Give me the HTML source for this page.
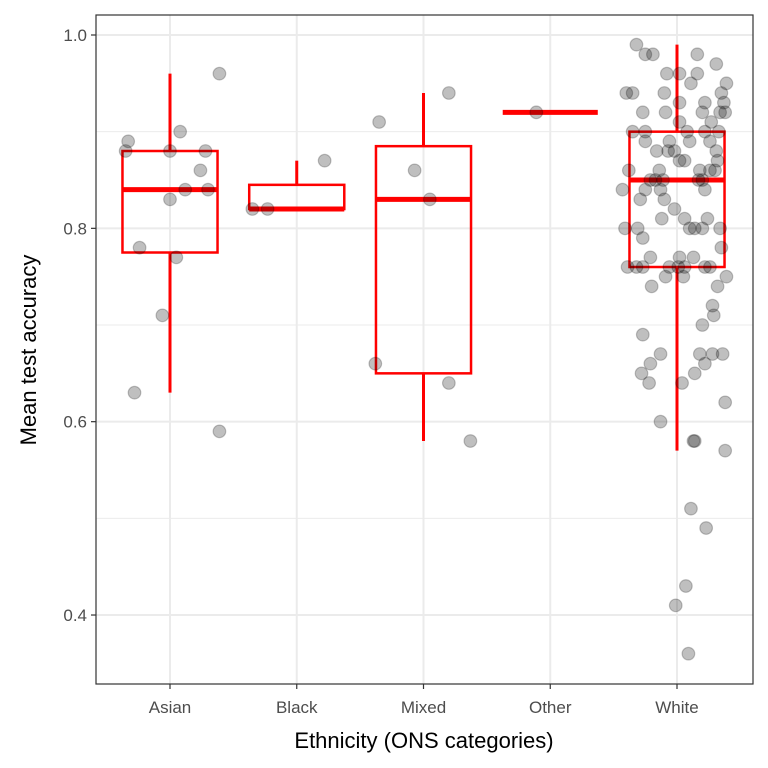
<!DOCTYPE html>
<html><head><meta charset="utf-8"><style>
html,body{margin:0;padding:0;background:#fff;}
svg{display:block;font-family:"Liberation Sans",Arial,sans-serif;}
</style></head><body>
<svg id="chart" width="768" height="768" viewBox="0 0 768 768"></svg>
<script>
const categories=["Asian","Black","Mixed","Other","White"];
const boxLow=[0.63,0.82,0.58,0.92,0.57];
const boxQ1=[0.775,0.82,0.65,0.92,0.76];
const boxMed=[0.84,0.82,0.83,0.92,0.85];
const boxQ3=[0.88,0.845,0.885,0.92,0.90];
const boxHigh=[0.96,0.87,0.94,0.92,0.99];
const yMajorTicks=[0.4,0.6,0.8,1.0];
const yTickLabels=["0.4","0.6","0.8","1.0"];
const yMinorTicks=[0.5,0.7,0.9];
const asianVal=[0.89,0.88,0.90,0.88,0.88,0.86,0.84,0.84,0.83,0.78,0.77,0.71,0.63,0.59,0.96];
const asianJit=[-0.33,-0.35,0.08,0,0.28,0.24,0.12,0.30,0,-0.24,0.05,-0.06,-0.28,0.39,0.39];
const blackVal=[0.82,0.82,0.87];
const blackJit=[-0.35,-0.23,0.22];
const mixedVal=[0.91,0.86,0.83,0.94,0.66,0.64,0.58];
const mixedJit=[-0.35,-0.07,0.05,0.20,-0.38,0.20,0.37];
const otherVal=[0.92];
const otherJit=[-0.11];
const whiteVal=[0.99,0.98,0.98,0.98,0.97,0.96,0.96,0.96,0.95,0.95,0.94,0.94,0.94,0.94,0.93,0.93,0.93,0.92,0.92,0.92,0.92,0.92,0.91,0.91,0.90,0.90,0.90,0.90,0.90,0.89,0.89,0.89,0.89,0.88,0.88,0.88,0.88,0.87,0.87,0.87,0.86,0.86,0.86,0.86,0.86,0.85,0.85,0.85,0.85,0.85,0.84,0.84,0.84,0.84,0.83,0.83,0.82,0.81,0.81,0.81,0.80,0.80,0.80,0.80,0.80,0.80,0.79,0.78,0.77,0.77,0.77,0.76,0.76,0.76,0.76,0.76,0.76,0.76,0.76,0.75,0.75,0.75,0.74,0.74,0.72,0.71,0.69,0.70,0.67,0.67,0.67,0.67,0.66,0.66,0.65,0.65,0.64,0.64,0.62,0.60,0.58,0.58,0.57,0.51,0.49,0.43,0.41,0.36];
const whiteJit=[-0.32,-0.25,-0.19,0.16,0.31,-0.08,0.02,0.16,0.11,0.39,0.35,-0.40,-0.35,-0.10,0.02,0.22,0.37,-0.27,-0.09,0.34,0.38,0.20,0.02,0.27,-0.35,-0.25,0.08,0.33,0.22,-0.25,-0.06,0.10,0.26,-0.16,-0.07,-0.02,0.31,0.02,0.06,0.32,0.30,-0.38,0.18,-0.14,0.26,0.17,-0.21,-0.17,-0.11,0.20,-0.43,-0.25,-0.13,0.22,-0.29,-0.10,-0.02,-0.12,0.06,0.24,0.10,0.14,0.20,0.34,-0.31,-0.41,-0.27,0.35,-0.21,0.02,0.13,-0.39,-0.32,-0.27,-0.06,0.01,0.06,0.22,0.26,0.39,-0.09,0.05,-0.20,0.32,0.28,0.29,-0.27,0.20,-0.13,0.18,0.28,0.36,-0.21,0.22,-0.28,0.14,0.04,-0.22,0.38,-0.13,0.13,0.14,0.38,0.11,0.23,0.07,-0.01,0.09];
const groupVals=[asianVal,blackVal,mixedVal,otherVal,whiteVal];
const groupJits=[asianJit,blackJit,mixedJit,otherJit,whiteJit];

const NS="http://www.w3.org/2000/svg";
const svg=document.getElementById('chart');
const P={l:96,r:753,t:15,b:684};
function y(v){return 35+(1-v)*966.7;}
function x(i){return 170+i*126.75;}
const BW=126.75;
function mk(tag,attrs,parent){const e=document.createElementNS(NS,tag);for(const k in attrs)e.setAttribute(k,attrs[k]);(parent||svg).appendChild(e);return e;}

const grid=mk('g',{});


yMinorTicks.forEach(v=>{const l=mk('line',{x1:P.l,x2:P.r,y1:y(v),y2:y(v),stroke:'#ebebeb','stroke-width':1},grid);

});
yMajorTicks.forEach(v=>{const l=mk('line',{x1:P.l,x2:P.r,y1:y(v),y2:y(v),stroke:'#ebebeb','stroke-width':2},grid);

});
categories.forEach((c,i)=>{const l=mk('line',{x1:x(i),x2:x(i),y1:P.t,y2:P.b,stroke:'#ebebeb','stroke-width':2},grid);

});

// boxes
categories.forEach((c,i)=>{
  const g=mk('g',{fill:'none',stroke:'#ff0000'});
  
  
  const cx=x(i),hw=BW*0.375;
  mk('line',{x1:cx,x2:cx,y1:y(boxHigh[i]),y2:y(boxQ3[i]),'stroke-width':3},g);
  mk('line',{x1:cx,x2:cx,y1:y(boxQ1[i]),y2:y(boxLow[i]),'stroke-width':3},g);
  mk('rect',{x:cx-hw,y:y(boxQ3[i]),width:2*hw,height:Math.max(0,y(boxQ1[i])-y(boxQ3[i])),'stroke-width':2.5},g);
  mk('line',{x1:cx-hw,x2:cx+hw,y1:y(boxMed[i]),y2:y(boxMed[i]),'stroke-width':5},g);
});

// points
const pts=mk('g',{});


groupVals.forEach((vals,i)=>{vals.forEach((v,j)=>{
  const c=mk('circle',{cx:x(i)+groupJits[i][j]*BW,cy:y(v),r:6.3,fill:'rgba(0,0,0,0.25)',stroke:'rgba(0,0,0,0.22)','stroke-width':1.2},pts);
  
  
});});

const border=mk('rect',{x:P.l,y:P.t,width:P.r-P.l,height:P.b-P.t,fill:'none',stroke:'#333','stroke-width':1.2});



yMajorTicks.forEach((v,k)=>{
  const t=mk('line',{x1:P.l-5,x2:P.l,y1:y(v),y2:y(v),stroke:'#333','stroke-width':1.2});
  
  
  const tx=mk('text',{x:P.l-9,y:y(v)+6,'text-anchor':'end','font-size':17,fill:'#4d4d4d'});
  tx.textContent=yTickLabels[k];
  
  
});
categories.forEach((c,i)=>{
  const t=mk('line',{x1:x(i),x2:x(i),y1:P.b,y2:P.b+5,stroke:'#333','stroke-width':1.2});
  
  
  const tx=mk('text',{x:x(i),y:713,'text-anchor':'middle','font-size':17,fill:'#4d4d4d'});
  tx.textContent=c;
  
  
});
const xt=mk('text',{x:424,y:748,'text-anchor':'middle','font-size':22,fill:'#000'});
xt.textContent='Ethnicity (ONS categories)';


const yt=mk('text',{x:0,y:0,'text-anchor':'middle','font-size':22,fill:'#000',transform:'translate(36,350) rotate(-90)'});
yt.textContent='Mean test accuracy';


</script>
</body></html>
